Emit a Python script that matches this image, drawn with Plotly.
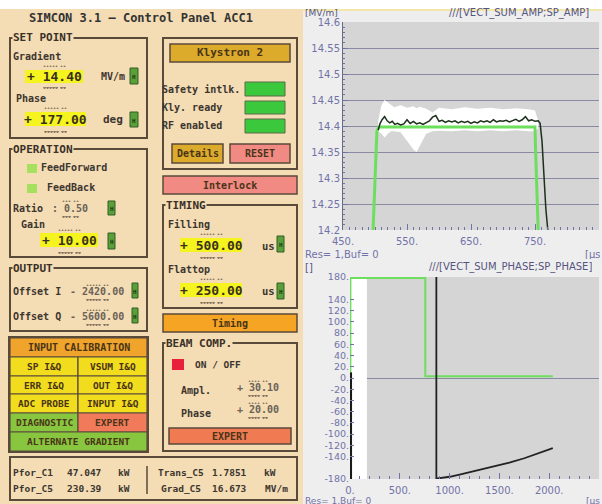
import plotly.graph_objects as go

W, H = 602, 504

# ---------------- data: amplitude plot ----------------
amp_sp_x = [497, 500, 503, 506, 750, 751, 753, 755]
amp_sp_y = [14.2, 14.3, 14.39, 14.398, 14.398, 14.35, 14.25, 14.2]

amp_meas_x = [505, 508, 511, 515, 519, 523, 527, 531, 535, 540, 545, 550, 555, 560, 565,
              570, 575, 580, 585, 590, 595, 600, 605, 610, 615, 620, 625, 630, 635, 640,
              645, 650, 655, 660, 665, 670, 675, 680, 685, 690, 695, 700, 705, 710, 715,
              720, 725, 730, 735, 740, 745, 750, 755, 758, 761, 764, 767, 770]
amp_meas_y = [14.392, 14.405, 14.412, 14.418, 14.41, 14.406, 14.409, 14.403, 14.405, 14.402,
              14.404, 14.412, 14.405, 14.409, 14.404, 14.406, 14.403, 14.407, 14.41, 14.417,
              14.42, 14.409, 14.411, 14.407, 14.41, 14.408, 14.41, 14.406, 14.409, 14.407,
              14.409, 14.405, 14.408, 14.406, 14.41, 14.408, 14.41, 14.407, 14.412, 14.408,
              14.41, 14.409, 14.411, 14.408, 14.41, 14.413, 14.409, 14.412, 14.418, 14.41,
              14.412, 14.409, 14.41, 14.405, 14.37, 14.3, 14.24, 14.2]

amp_env_x = [505, 510, 515, 520, 525, 530, 540, 550, 560, 565, 570, 580, 590, 600, 620,
             640, 660, 680, 700, 720, 740, 750, 755]
amp_env_hi = [14.41, 14.44, 14.45, 14.445, 14.44, 14.436, 14.44, 14.435, 14.438, 14.434,
              14.437, 14.433, 14.426, 14.435, 14.432, 14.436, 14.433, 14.435, 14.432,
              14.434, 14.432, 14.43, 14.41]
amp_env_lo = [14.39, 14.385, 14.378, 14.385, 14.39, 14.39, 14.388, 14.372, 14.355, 14.35,
              14.36, 14.385, 14.39, 14.391, 14.39, 14.392, 14.39, 14.392, 14.39, 14.392,
              14.39, 14.39, 14.395]

amp_yticks = [14.2, 14.25, 14.3, 14.35, 14.4, 14.45, 14.5, 14.55, 14.6]
amp_ytext = ["14.2", "14.25", "14.3", "14.35", "14.4", "14.45", "14.5", "14.55", "14.6"]
amp_xticks = [450, 550, 650, 750, 850]
amp_xtext = ["450.", "550.", "650.", "750.", "850."]

# ---------------- data: phase plot ----------------
ph_band = [0, 170]                      # white band (x range)
ph_sp_x = [4, 4, 756, 756, 2036]
ph_sp_y = [2, 178, 178, 3, 3]
ph_left_x = [3, 3]
ph_left_y = [-180, 10]
ph_meas_x = [867, 867, 880, 1000, 1100, 1250, 1400, 1500, 1600, 1750, 1900, 2000, 2036]
ph_meas_y = [180, -180, -179, -176, -172, -166, -160, -156, -151, -143, -134, -128, -125]

ph_yticks = [180, 140, 120, 100, 80, 60, 40, 20, 0, -20, -40, -60, -80, -100, -120, -140, -180]
ph_ytext = ["180.", "140.", "120.", "100.", "80.", "60.", "40.", "20.", "0.", "-20.", "-40.",
            "-60.", "-80.", "-100.", "-120.", "-140.", "-180."]
ph_xticks = [0, 500, 1000, 1500, 2000, 2500]
ph_xtext = ["0.", "500.", "1000.", "1500.", "2000.", "2500"]

# ---------------- helpers ----------------
MONO = "DejaVu Sans Mono"
SANS = "DejaVu Sans"
BEIGE = "#f4dcb4"
FRAME = "#5a4a3a"
YEL = "#f6f41e"
HGREEN = "#5aa03a"
TXT = "#3c3630"
AXC = "#7272a8"

shapes, ann = [], []


def R(x0, y0, x1, y1, fill="rgba(0,0,0,0)", line=None, lw=1):
    shapes.append(dict(type="rect", xref="paper", yref="paper", layer="below",
                       x0=x0 / W, x1=x1 / W, y0=1 - y1 / H, y1=1 - y0 / H,
                       fillcolor=fill,
                       line=dict(color=line if line else "rgba(0,0,0,0)",
                                 width=lw if line else 0)))


def L(x0, y0, x1, y1, color, lw=1):
    shapes.append(dict(type="line", xref="paper", yref="paper", layer="below",
                       x0=x0 / W, x1=x1 / W, y0=1 - y0 / H, y1=1 - y1 / H,
                       line=dict(color=color, width=lw)))


def T(x, y, s, size=10, color=TXT, anchor="left", bold=True, family=MONO, bg=None, h=None):
    d = dict(xref="paper", yref="paper", x=x / W, y=1 - y / H,
             text=f"<b>{s}</b>" if bold else s, showarrow=False,
             xanchor=anchor, yanchor="middle", borderpad=0,
             font=dict(family=family, size=size, color=color))
    if bg:
        d["bgcolor"] = bg
    if h:
        d["height"] = h
    ann.append(d)


def HB(x0, y0, x1, y1):
    R(x0, y0, x1, y1, HGREEN, "#355a25", 1)
    T((x0 + x1) / 2, (y0 + y1) / 2, "H", 6, "#1e3a12", "center", h=6)


def SPIN(cx, ytop, ybot, n="▴▴▴▴▴ ▴▴", m="▾▾▾▾▾ ▾▾"):
    T(cx, ytop, n, 6, "#85745f", "center", bold=False, family=SANS, h=4)
    T(cx, ybot, m, 6, "#85745f", "center", bold=False, family=SANS, h=4)


def DVAL(cx, y, s, n, m):
    # dotted spinner value (no yellow box)
    SPIN(cx, y - 7.5, y + 7.5, n, m)
    T(cx, y, s, 10, "#6a6258", "center", h=9)


def BTN(x0, y0, x1, y1, fill, label, size=10, lw=1.2):
    R(x0, y0, x1, y1, fill, FRAME, lw)
    T((x0 + x1) / 2, (y0 + y1) / 2, label, size, "#4a3418", "center")


def GROUP(x0, y0, x1, y1, label):
    R(x0, y0, x1, y1, "rgba(0,0,0,0)", FRAME, 2)
    T(x0 + 2, y0, label, 11, "#3a3028", bg=BEIGE)


# ---------------- backgrounds ----------------
R(0, 9, 303, 504, BEIGE)
R(303, 10, 602, 504, "#eeeeee")
L(303, 10, 602, 10, "#f2e6a8", 2)
R(343, 22, 599, 230, "#d5d5d5")
R(350, 277, 599, 479, "#d5d5d5")

# ---------------- left panel ----------------
T(141, 18, "SIMCON 3.1 – Control Panel ACC1", 12, "#333333", "center")

GROUP(10, 38, 147, 138, "SET POINT")
T(12, 56, "Gradient", 10)
SPIN(54, 65, 87)
R(25, 70, 83, 83, YEL)
T(54, 76.5, "+ 14.40", 13, "#3a3020", "center")
T(100, 76, "MV/m", 10)
HB(130, 68, 138, 84)
T(15, 99, "Phase", 10)
SPIN(55.5, 107, 131)
R(25, 112, 86, 126, YEL)
T(55.5, 119, "+ 177.00", 13, "#3a3020", "center")
T(102, 119, "deg", 11)
HB(130, 112, 138, 127)

GROUP(10, 149, 147, 257, "OPERATION")
R(27, 164, 37, 173, "#a6e05e")
T(40, 168, "FeedForward", 10)
R(27, 184, 37, 193, "#a6e05e")
T(46, 187, "FeedBack", 10)
T(12, 208, "Ratio", 10)
DVAL(70, 208, ": 0.50", "▴▴▴ ▴▴", "▾▾▾ ▾▾")
HB(108, 201, 115, 215)
T(20, 224, "Gain", 10)
SPIN(69, 229, 252)
R(40, 233, 98, 247, YEL)
T(69, 240, "+ 10.00", 13, "#3a3020", "center")
HB(108, 233, 115, 249)

GROUP(10, 268, 147, 331, "OUTPUT")
T(12, 291, "Offset I", 10)
DVAL(97, 291, "- 2420.00", "▴▴▴▴▴ ▴▴", "▾▾▾▾▾ ▾▾")
HB(132, 283, 138, 298)
T(12, 316, "Offset Q", 10)
DVAL(97, 316, "- 5600.00", "▴▴▴▴▴ ▴▴", "▾▾▾▾▾ ▾▾")
HB(132, 308, 138, 323)

# button grid
R(9, 337, 148, 452, "rgba(0,0,0,0)", FRAME, 2)
BTN(10, 338, 147, 357, "#f0a42c", "INPUT CALIBRATION", 10)
rows = [(357, 376, "SP I&amp;Q", "VSUM I&amp;Q", "#f2dc1e", "#f2dc1e"),
        (376, 394, "ERR I&amp;Q", "OUT I&amp;Q", "#f2dc1e", "#f2dc1e"),
        (394, 413, "ADC PROBE", "INPUT I&amp;Q", "#f2dc1e", "#f2dc1e"),
        (413, 432, "DIAGNOSTIC", "EXPERT", "#88c640", "#f07a5a")]
for y0, y1, a, b, ca, cb in rows:
    BTN(10, y0, 78, y1, ca, a, 9.5)
    BTN(78, y0, 147, y1, cb, b, 9.5)
BTN(10, 432, 147, 451, "#88c640", "ALTERNATE GRADIENT", 9.5)

# middle column
R(163, 38, 297, 169, "rgba(0,0,0,0)", FRAME, 2)
BTN(170, 44, 290, 62, "#dcab2c", "Klystron 2", 11, 1.5)
T(161, 89, "Safety intlk.", 10)
R(245, 82, 285, 96, "#3cc83c", "#5a6a4a", 1)
T(161, 107, "Kly. ready", 10)
R(245, 101, 285, 114, "#3cc83c", "#5a6a4a", 1)
T(161, 125, "RF enabled", 10)
R(245, 119, 285, 133, "#3cc83c", "#5a6a4a", 1)
BTN(172, 144, 223, 163, "#dcab2c", "Details", 10, 1.5)
BTN(230, 144, 290, 163, "#f08a82", "RESET", 10, 1.5)

BTN(163, 176, 297, 194, "#f08a82", "Interlock", 10, 1.5)

GROUP(163, 205, 297, 308, "TIMING")
T(167, 225, "Filling", 10)
SPIN(211, 233, 257)
R(180, 238, 242, 252, YEL)
T(211, 245, "+ 500.00", 13, "#3a3020", "center")
T(261, 246, "us", 10.5)
HB(277, 236, 284, 252)
T(167, 269, "Flattop", 10)
SPIN(211, 278, 302)
R(180, 283, 242, 297, YEL)
T(211, 290, "+ 250.00", 13, "#3a3020", "center")
T(261, 291, "us", 10.5)
HB(277, 283, 284, 299)

BTN(163, 314, 297, 332, "#f5a423", "Timing", 10, 1.5)

GROUP(163, 343, 297, 451, "BEAM COMP.")
R(172, 359, 184, 370, "#e8203c")
T(194, 364, "ON / OFF", 9.5)
T(180, 390, "Ampl.", 10)
DVAL(258, 387, "+ 30.10", "▴▴▴▴ ▴▴", "▾▾▾▾ ▾▾")
T(180, 413, "Phase", 10)
DVAL(258, 409.5, "+ 20.00", "▴▴▴▴ ▴▴", "▾▾▾▾ ▾▾")
BTN(169, 428, 291, 444, "#f07a52", "EXPERT", 10, 1.5)

# status box
R(10, 457, 297, 500, "rgba(0,0,0,0)", FRAME, 2)
L(147, 466, 147, 494, FRAME, 1.5)
for y, items in [(472, [(12, "Pfor_C1"), (66, "47.047"), (117, "kW"),
                        (157, "Trans_C5"), (211, "1.7851"), (263, "kW")]),
                 (488, [(12, "Pfor_C5"), (66, "230.39"), (117, "kW"),
                        (160, "Grad_C5"), (211, "16.673"), (264, "MV/m")])]:
    for x, s in items:
        T(x, y, s, 9.5)

# right side texts
HC = "#555580"
T(304, 13, "[MV/m]", 9, HC, bold=False, family=SANS)
T(590, 13, "///[VECT_SUM_AMP;SP_AMP]", 10, HC, "right", bold=False, family=SANS)
T(304, 254, "Res= 1,Buf= 0", 10, AXC, bold=False, family=SANS, h=9)
T(601, 254, "[μs", 10, AXC, "right", bold=False, family=SANS, h=9)
T(304, 266.5, "[]", 10, HC, bold=False, family=SANS, h=12)
T(593, 266.5, "///[VECT_SUM_PHASE;SP_PHASE]", 10, HC, "right", bold=False, family=SANS, h=12)
T(304, 500, "Res= 1,Buf= 0", 9, AXC, bold=False, family=SANS, h=7)
T(601, 500, "[μs", 9, AXC, "right", bold=False, family=SANS, h=7)

# ---------------- traces ----------------
fig = go.Figure()
fig.add_trace(go.Scatter(x=amp_env_x + amp_env_x[::-1], y=amp_env_hi + amp_env_lo[::-1],
                         fill="toself", fillcolor="#ffffff", line=dict(width=0),
                         mode="lines", xaxis="x", yaxis="y", hoverinfo="skip"))
fig.add_trace(go.Scatter(x=amp_sp_x, y=amp_sp_y, mode="lines",
                         line=dict(color="#6ede5e", width=3), xaxis="x", yaxis="y"))
fig.add_trace(go.Scatter(x=amp_meas_x, y=amp_meas_y, mode="lines",
                         line=dict(color="#1c301c", width=1.5), xaxis="x", yaxis="y"))

fig.add_trace(go.Scatter(x=[ph_band[0], ph_band[1], ph_band[1], ph_band[0]],
                         y=[-180, -180, 180, 180], fill="toself", fillcolor="#ffffff",
                         line=dict(width=0), mode="lines", xaxis="x2", yaxis="y2"))
fig.add_trace(go.Scatter(x=ph_sp_x, y=ph_sp_y, mode="lines",
                         line=dict(color="#6ede5e", width=2), xaxis="x2", yaxis="y2"))
fig.add_trace(go.Scatter(x=ph_left_x, y=ph_left_y, mode="lines",
                         line=dict(color="#1a1a1a", width=3.5), xaxis="x2", yaxis="y2"))
fig.add_trace(go.Scatter(x=ph_meas_x, y=ph_meas_y, mode="lines",
                         line=dict(color="#222222", width=1.8), xaxis="x2", yaxis="y2"))

tickfont = dict(family=SANS, size=10, color=AXC)
tickfont2 = dict(family=SANS, size=9.5, color=AXC)

fig.update_layout(
    width=W, height=H, autosize=False,
    margin=dict(l=0, r=0, t=0, b=0),
    paper_bgcolor="#ffffff", plot_bgcolor="rgba(0,0,0,0)",
    showlegend=False,
    shapes=shapes, annotations=ann,
    xaxis=dict(domain=[343 / W, 599 / W], anchor="y", range=[450, 850],
               tickvals=amp_xticks, ticktext=amp_xtext, tickfont=tickfont,
               showgrid=False, zeroline=False, ticks="inside", ticklen=6,
               tickcolor=AXC, automargin=False, ticklabelstandoff=4,
               minor=dict(ticks="inside", ticklen=3, dtick=10, tickcolor=AXC)),
    yaxis=dict(domain=[1 - 230 / H, 1 - 22 / H], anchor="x", range=[14.2, 14.6],
               tickvals=amp_yticks, ticktext=amp_ytext, tickfont=tickfont,
               showgrid=True, gridcolor="#8a8aa2", gridwidth=1, zeroline=False,
               showline=True, linecolor="#6a6a80", linewidth=1,
               ticks="inside", ticklen=5, tickcolor=AXC, automargin=False,
               minor=dict(ticks="inside", ticklen=2, dtick=0.01, tickcolor=AXC)),
    xaxis2=dict(domain=[350 / W, 599 / W], anchor="y2", range=[0, 2500],
                tickvals=ph_xticks, ticktext=ph_xtext, tickfont=tickfont,
                showgrid=False, zeroline=False, ticks="inside", ticklen=6,
                tickcolor=AXC, automargin=False, ticklabelstandoff=4,
                minor=dict(ticks="inside", ticklen=3, dtick=100, tickcolor=AXC)),
    yaxis2=dict(domain=[1 - 479 / H, 1 - 277 / H], anchor="x2", range=[-180, 180],
                tickvals=ph_yticks, ticktext=ph_ytext, tickfont=tickfont2,
                showgrid=False, zeroline=True, zerolinecolor="#8a8aa2", zerolinewidth=1,
                ticks="inside", ticklen=4, tickcolor=AXC, automargin=False),
)

fig.write_html("out.html", config={"displayModeBar": False},
               post_script="document.body.style.margin='0px';")
